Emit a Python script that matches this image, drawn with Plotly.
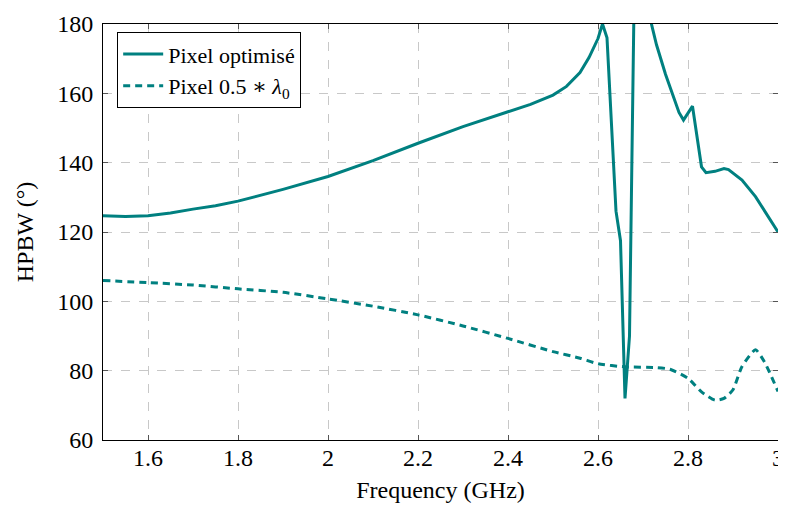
import plotly.graph_objects as go

# Pixel optimisé (solid)
freq_opt = [1.50, 1.55, 1.60, 1.65, 1.70, 1.75, 1.80, 1.90, 2.00, 2.10, 2.20, 2.30, 2.40,
            2.45, 2.50, 2.53, 2.56, 2.58, 2.60, 2.61, 2.62, 2.64, 2.65, 2.66, 2.67,
            2.68, 2.70, 2.73, 2.75, 2.78, 2.79, 2.81, 2.83, 2.84, 2.86, 2.88, 2.89,
            2.92, 2.95, 3.00]
hpbw_opt = [124.7, 124.5, 124.7, 125.5, 126.6, 127.6, 128.9, 132.3, 136.0, 140.6, 145.6,
            150.4, 154.7, 156.8, 159.5, 162.0, 166.0, 170.3, 175.8, 180.0, 176.0, 126.0,
            117.5, 72.0, 90.0, 185.0, 190.0, 174.0, 165.5, 154.5, 152.3, 156.3, 138.8,
            137.1, 137.5, 138.3, 138.0, 135.0, 130.2, 120.0]

# Pixel 0.5*lambda0 (dashed)
freq_ref = [1.50, 1.60, 1.70, 1.80, 1.90, 2.00, 2.10, 2.20, 2.30, 2.40, 2.50, 2.56,
            2.60, 2.66, 2.73, 2.76, 2.80, 2.83, 2.86, 2.88, 2.90, 2.92, 2.95, 2.97, 3.00]
hpbw_ref = [106.0, 105.4, 104.7, 103.6, 102.6, 100.7, 98.6, 96.1, 92.9, 89.3, 85.5, 83.6,
            82.0, 81.1, 80.9, 80.4, 77.8, 73.9, 71.5, 72.0, 74.5, 81.2, 86.0, 82.5, 74.0]

teal = '#008080'
font_family = 'Liberation Serif, DejaVu Serif, serif'

fig = go.Figure()

fig.add_trace(go.Scatter(
    x=freq_opt, y=hpbw_opt, mode='lines', name='Pixel optimisé',
    line=dict(color=teal, width=3)
))
fig.add_trace(go.Scatter(
    x=freq_ref, y=hpbw_ref, mode='lines', name='Pixel 0.5 ∗ <i>λ</i><sub>0</sub>',
    line=dict(color=teal, width=3, dash='7px,5px', shape='spline', smoothing=0.6)
))

axis_style = dict(
    showline=True, linecolor='black', linewidth=1, mirror='allticks',
    ticks='inside', ticklen=5, tickcolor='#555555', tickwidth=1,
    showgrid=True, gridcolor='#c8c8c8', griddash='dash', gridwidth=1,
    zeroline=False, automargin=False,
    tickfont=dict(family=font_family, size=24, color='black'),
)

fig.update_xaxes(range=[1.5, 3.0], dtick=0.2, tick0=1.6, ticklabelstandoff=-4,
                 title=dict(text='Frequency (GHz)', font=dict(family=font_family, size=24, color='black'),
                            standoff=11),
                 **axis_style)
fig.update_yaxes(range=[60, 180], dtick=20, ticklabelstandoff=4,
                 title=dict(text='HPBW (°)', font=dict(family=font_family, size=24, color='black'),
                            standoff=16),
                 **axis_style)

# page body has an 8px margin, so the figure is sized to fit the window
fig.update_layout(
    width=778, height=498,
    margin=dict(l=95, r=8, t=16, b=66),
    plot_bgcolor='white', paper_bgcolor='white',
    font=dict(family=font_family, color='black'),
    legend=dict(x=0.021, y=0.98, xanchor='left', yanchor='top',
                bgcolor='white', bordercolor='black', borderwidth=1,
                font=dict(family=font_family, size=22, color='black'),
                itemwidth=40, tracegroupgap=0),
)

fig.write_html("out.html")
